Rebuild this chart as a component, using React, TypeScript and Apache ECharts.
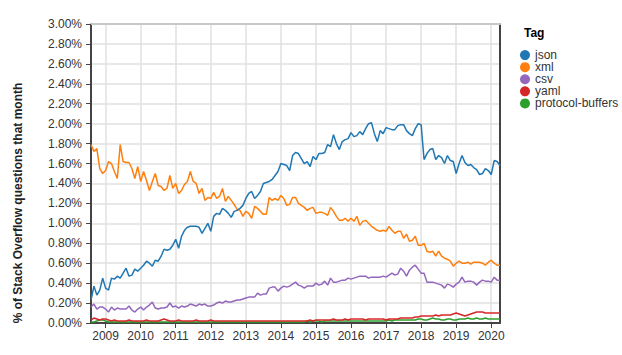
import React, { useEffect, useRef } from "react";
import * as echarts from "echarts";

// Monthly series start in August 2008 (one value per month)
const START_YEAR = 2008;
const START_MONTH = 8;
const X_MIN = 2008 + 7 / 12;
const X_MAX = 2020.25;
const YEAR_TICKS = [2009, 2010, 2011, 2012, 2013, 2014, 2015, 2016, 2017, 2018, 2019, 2020];
const Y_MAX = 3;
const Y_STEP = 0.2;

const TAGS = ["json", "xml", "csv", "yaml", "protocol-buffers"];
const COLORS = ["#1f77b4", "#ff7f0e", "#9467bd", "#d62728", "#2ca02c"];

const jsonVals = [
  0.23, 0.37, 0.28, 0.33, 0.45, 0.35, 0.33, 0.45, 0.44, 0.47,
  0.45, 0.50, 0.55, 0.47, 0.48, 0.54, 0.52, 0.55, 0.58, 0.62,
  0.60, 0.57, 0.63, 0.62, 0.67, 0.74, 0.73, 0.74, 0.78, 0.84,
  0.75, 0.87, 0.93, 0.96, 0.97, 0.97, 0.97, 0.96, 0.90, 0.95,
  1.00, 0.92, 1.07, 1.10, 1.09, 1.15, 1.13, 1.10, 1.06, 1.12,
  1.13, 1.15, 1.18, 1.25, 1.30, 1.32, 1.25, 1.28, 1.32, 1.40,
  1.41, 1.42, 1.44, 1.48, 1.52, 1.60, 1.59, 1.58, 1.53, 1.68,
  1.71, 1.70, 1.65, 1.60, 1.62, 1.57, 1.67, 1.64, 1.70, 1.70,
  1.71, 1.79, 1.77, 1.89, 1.80, 1.74, 1.82, 1.84, 1.85, 1.91,
  1.87, 1.88, 1.92, 1.89, 1.95, 2.00, 2.01, 1.90, 1.82, 1.93,
  1.90, 1.96, 1.95, 1.94, 1.94, 1.98, 1.99, 1.99, 1.93, 1.90,
  1.88, 1.95, 2.00, 1.99, 1.64, 1.70, 1.74, 1.75, 1.64, 1.68,
  1.66, 1.60, 1.68, 1.63, 1.62, 1.50, 1.60, 1.68, 1.61, 1.58,
  1.59, 1.56, 1.54, 1.49, 1.50, 1.55, 1.53, 1.49, 1.63, 1.62,
  1.58,
];

const xmlVals = [
  1.79, 1.72, 1.75, 1.55, 1.50, 1.53, 1.62, 1.60, 1.52, 1.45,
  1.79, 1.62, 1.61, 1.61, 1.55, 1.45, 1.57, 1.42, 1.52, 1.43,
  1.33, 1.42, 1.50, 1.38, 1.37, 1.33, 1.35, 1.48, 1.35, 1.40,
  1.30, 1.33, 1.39, 1.42, 1.52, 1.42, 1.40, 1.30, 1.35, 1.23,
  1.26, 1.25, 1.31, 1.25, 1.27, 1.35, 1.22, 1.27, 1.23, 1.19,
  1.14, 1.13, 1.07, 1.12, 1.10, 1.05, 1.17, 1.15, 1.12, 1.09,
  1.09, 1.26, 1.23, 1.25, 1.23, 1.28, 1.25, 1.18, 1.19, 1.26,
  1.26, 1.20, 1.18, 1.16, 1.13, 1.15, 1.16, 1.10, 1.11, 1.11,
  1.10, 1.08, 1.16, 1.12, 1.07, 1.03, 1.03, 1.05, 1.02, 1.05,
  1.02, 1.07, 0.98, 1.02, 1.03, 1.00, 0.97, 0.95, 0.93, 0.92,
  0.93, 0.92, 0.97, 0.93, 0.90, 0.92, 0.92, 0.85, 0.89, 0.82,
  0.83, 0.87, 0.78, 0.78, 0.80, 0.72, 0.71, 0.72, 0.67, 0.72,
  0.67, 0.65, 0.64, 0.62, 0.57, 0.60, 0.62, 0.60, 0.60, 0.61,
  0.59, 0.61, 0.61, 0.61, 0.60, 0.58, 0.61, 0.63, 0.60, 0.58,
  0.58,
];

const csvVals = [
  0.16, 0.19, 0.14, 0.16, 0.16, 0.14, 0.11, 0.16, 0.13, 0.15,
  0.14, 0.14, 0.14, 0.17, 0.13, 0.11, 0.14, 0.16, 0.13, 0.16,
  0.18, 0.21, 0.15, 0.14, 0.15, 0.15, 0.16, 0.20, 0.16, 0.17,
  0.15, 0.17, 0.16, 0.17, 0.19, 0.18, 0.17, 0.19, 0.18, 0.19,
  0.17, 0.17, 0.18, 0.20, 0.21, 0.20, 0.22, 0.21, 0.21, 0.22,
  0.23, 0.23, 0.24, 0.25, 0.26, 0.26, 0.26, 0.30, 0.28, 0.29,
  0.29, 0.35, 0.36, 0.36, 0.32, 0.35, 0.37, 0.36, 0.37, 0.39,
  0.41, 0.38, 0.37, 0.35, 0.37, 0.37, 0.37, 0.40, 0.38, 0.39,
  0.42, 0.38, 0.45, 0.41, 0.41, 0.42, 0.43, 0.43, 0.45, 0.44,
  0.45, 0.46, 0.47, 0.47, 0.47, 0.45, 0.46, 0.46, 0.46, 0.46,
  0.47, 0.46, 0.48, 0.50, 0.48, 0.49, 0.55, 0.52, 0.47, 0.53,
  0.56, 0.58, 0.54, 0.50, 0.50, 0.41, 0.41, 0.41, 0.40, 0.39,
  0.38, 0.35, 0.39, 0.38, 0.36, 0.39, 0.41, 0.46, 0.41, 0.42,
  0.42, 0.41, 0.38, 0.41, 0.43, 0.42, 0.42, 0.41, 0.46, 0.43,
  0.43,
];

const yamlVals = [
  0.03, 0.05, 0.04, 0.03, 0.04, 0.04, 0.03, 0.02, 0.03, 0.02,
  0.02, 0.02, 0.02, 0.03, 0.02, 0.02, 0.02, 0.02, 0.02, 0.03,
  0.02, 0.02, 0.02, 0.02, 0.03, 0.04, 0.03, 0.02, 0.02, 0.02,
  0.03, 0.02, 0.02, 0.02, 0.02, 0.02, 0.03, 0.02, 0.02, 0.02,
  0.02, 0.03, 0.02, 0.02, 0.02, 0.02, 0.02, 0.02, 0.02, 0.02,
  0.02, 0.02, 0.02, 0.02, 0.02, 0.02, 0.02, 0.02, 0.02, 0.02,
  0.02, 0.02, 0.02, 0.02, 0.02, 0.02, 0.02, 0.02, 0.02, 0.02,
  0.02, 0.02, 0.02, 0.02, 0.02, 0.03, 0.02, 0.03, 0.03, 0.03,
  0.03, 0.03, 0.03, 0.04, 0.03, 0.03, 0.03, 0.04, 0.03, 0.04,
  0.04, 0.04, 0.04, 0.04, 0.03, 0.04, 0.04, 0.04, 0.04, 0.04,
  0.04, 0.03, 0.04, 0.04, 0.04, 0.04, 0.05, 0.05, 0.05, 0.05,
  0.05, 0.06, 0.06, 0.07, 0.07, 0.07, 0.07, 0.07, 0.08, 0.07,
  0.08, 0.08, 0.08, 0.08, 0.09, 0.10, 0.09, 0.08, 0.07, 0.08,
  0.09, 0.10, 0.11, 0.11, 0.11, 0.10, 0.10, 0.10, 0.10, 0.10,
  0.10,
];

const protobufVals = [
  0.01, 0.01, 0.02, 0.03, 0.03, 0.02, 0.01, 0.01, 0.01, 0.01,
  0.01, 0.01, 0.01, 0.01, 0.01, 0.01, 0.01, 0.01, 0.01, 0.01,
  0.01, 0.01, 0.01, 0.01, 0.01, 0.01, 0.01, 0.01, 0.01, 0.01,
  0.01, 0.01, 0.01, 0.01, 0.01, 0.01, 0.01, 0.01, 0.01, 0.01,
  0.01, 0.01, 0.01, 0.01, 0.01, 0.01, 0.01, 0.01, 0.01, 0.01,
  0.01, 0.01, 0.01, 0.01, 0.01, 0.01, 0.01, 0.01, 0.01, 0.01,
  0.01, 0.01, 0.01, 0.01, 0.01, 0.01, 0.01, 0.01, 0.01, 0.01,
  0.01, 0.01, 0.01, 0.01, 0.02, 0.01, 0.02, 0.02, 0.02, 0.01,
  0.02, 0.02, 0.02, 0.02, 0.02, 0.02, 0.02, 0.02, 0.02, 0.02,
  0.02, 0.02, 0.02, 0.02, 0.02, 0.02, 0.02, 0.02, 0.02, 0.02,
  0.02, 0.02, 0.03, 0.02, 0.03, 0.03, 0.03, 0.03, 0.03, 0.03,
  0.03, 0.03, 0.04, 0.04, 0.03, 0.03, 0.04, 0.05, 0.04, 0.04,
  0.03, 0.03, 0.04, 0.04, 0.03, 0.03, 0.04, 0.04, 0.04, 0.05,
  0.04, 0.04, 0.05, 0.04, 0.04, 0.05, 0.04, 0.04, 0.04, 0.04,
  0.04,
];

const SERIES_VALUES = [jsonVals, xmlVals, csvVals, yamlVals, protobufVals];

const FONT = "'Liberation Sans', Arial, sans-serif";
const AXIS_COLOR = "#444";
const GRID_COLOR = "#e0e0e0";

function monthToX(i: number): number {
  return START_YEAR + (START_MONTH - 1 + i) / 12;
}

export default function App() {
  const ref = useRef<HTMLDivElement>(null);

  useEffect(() => {
    document.body.style.margin = "0";
    if (!ref.current) return;
    const chart = echarts.init(ref.current, null, { renderer: "svg" });

    const series = TAGS.map((tag, k) => ({
      name: tag,
      type: "line",
      showSymbol: false,
      symbol: "circle",
      color: COLORS[k],
      lineStyle: { width: 1.5, color: COLORS[k] },
      data: SERIES_VALUES[k].map((v, i) => [monthToX(i), v]),
      z: 10 - k,
    }));

    chart.setOption({
      animation: false,
      backgroundColor: "#fff",
      textStyle: { fontFamily: FONT },
      grid: { left: 91, right: 122, top: 24, bottom: 32, containLabel: false },
      title: {
        text: "Tag",
        left: 519,
        top: 22,
        textStyle: { fontSize: 12, fontWeight: "bold", color: "#000", fontFamily: FONT },
      },
      legend: {
        orient: "vertical",
        left: 515,
        top: 44,
        icon: "circle",
        itemWidth: 10,
        itemHeight: 10,
        itemGap: 0,
        data: TAGS,
        textStyle: { fontSize: 12, color: "#333", lineHeight: 12.1, fontFamily: FONT },
      },
      xAxis: [
        {
          type: "value",
          min: X_MIN,
          max: X_MAX,
          axisLine: { show: true, onZero: false, lineStyle: { color: AXIS_COLOR, width: 2 } },
          axisTick: { show: true, length: 5, customValues: YEAR_TICKS, lineStyle: { color: AXIS_COLOR } },
          axisLabel: {
            customValues: YEAR_TICKS,
            formatter: (v: number) => String(Math.round(v)),
            fontSize: 12,
            color: "#333",
            margin: 7,
            fontFamily: FONT,
          },
          splitLine: { show: true, lineStyle: { color: GRID_COLOR, width: 1.5 } },
        },
        {
          type: "value",
          position: "top",
          min: X_MIN,
          max: X_MAX,
          axisLine: { show: true, onZero: false, lineStyle: { color: "#c8c8c8", width: 2 } },
          axisTick: { show: false },
          axisLabel: { show: false },
          splitLine: { show: false },
        },
      ],
      yAxis: [
        {
          type: "value",
          min: 0,
          max: Y_MAX,
          interval: Y_STEP,
          axisLine: { show: true, lineStyle: { color: AXIS_COLOR, width: 2 } },
          axisTick: { show: true, length: 5, lineStyle: { color: AXIS_COLOR } },
          axisLabel: {
            formatter: (v: number) => v.toFixed(2) + "%",
            fontSize: 12,
            color: "#333",
            margin: 9,
            fontFamily: FONT,
          },
          splitLine: { show: true, lineStyle: { color: GRID_COLOR, width: 1.5 } },
        },
        {
          type: "value",
          position: "right",
          min: 0,
          max: Y_MAX,
          interval: Y_STEP,
          axisLine: { show: true, lineStyle: { color: AXIS_COLOR, width: 2 } },
          axisTick: { show: false },
          axisLabel: { show: false },
          splitLine: { show: false },
        },
      ],
      graphic: [
        {
          type: "text",
          x: 18,
          y: 203,
          rotation: Math.PI / 2,
          style: {
            text: "% of Stack Overflow questions that month",
            fontSize: 12,
            fontWeight: "bold",
            fill: "#222",
            fontFamily: FONT,
            align: "center",
            verticalAlign: "middle",
          },
        },
      ],
      series: series.map((s) => ({ ...s, xAxisIndex: 0, yAxisIndex: 0 })),
    });

    return () => chart.dispose();
  }, []);

  return <div ref={ref} style={{ width: 622, height: 355 }} />;
}
